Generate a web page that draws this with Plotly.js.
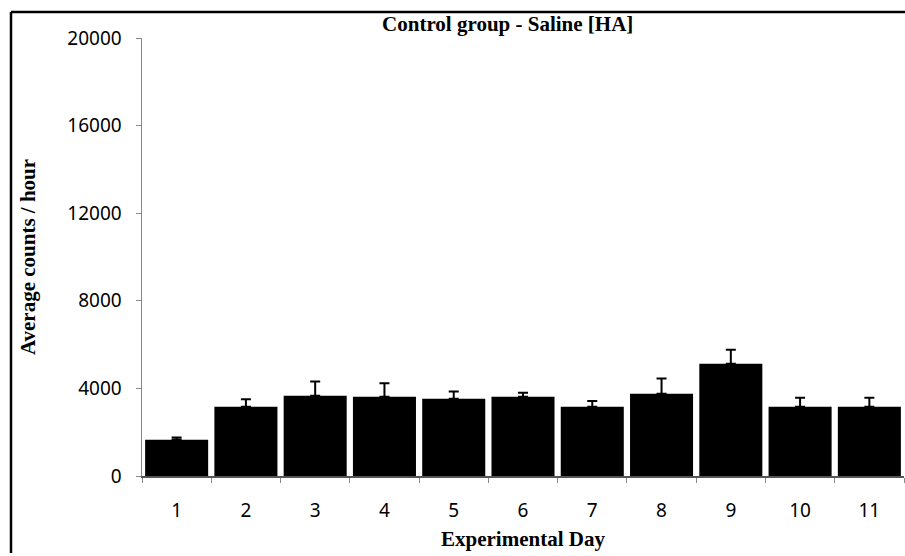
<!DOCTYPE html>
<html>
<head>
<meta charset="utf-8">
<script src="https://cdn.plot.ly/plotly-3.0.1.min.js"></script>
<style>
html,body{margin:0;padding:0;background:#fff;overflow:hidden;}
#chart{width:905px;height:556px;overflow:hidden;}
</style>
</head>
<body>
<div id="chart"></div>
<script>
var days = ['1','2','3','4','5','6','7','8','9','10','11'];
var avgCounts = [1660, 3160, 3670, 3620, 3530, 3620, 3160, 3760, 5130, 3160, 3160];
var sem = [95, 340, 640, 610, 330, 180, 260, 690, 640, 410, 410];
var semMinus = [0, 0, 0, 0, 0, 0, 0, 0, 0, 0, 0];
var yTicks = [0, 4000, 8000, 12000, 16000, 20000];

var trace = {
  type: 'bar',
  x: days,
  y: avgCounts,
  marker: {color: '#000000', line: {width: 0}},
  error_y: {
    type: 'data',
    symmetric: false,
    array: sem,
    arrayminus: semMinus,
    color: '#000000',
    thickness: 2,
    width: 5
  },
  hoverinfo: 'x+y'
};

var frameLeft = (11 - 142) / 762;
var frameTop = (476 - 12) / 438;
var frameRight = (905 - 142) / 762;
var frameBottom = (476 - 553) / 438;

var layout = {
  width: 905,
  height: 556,
  margin: {l: 142, r: 1, t: 38, b: 80},
  paper_bgcolor: '#ffffff',
  plot_bgcolor: '#ffffff',
  bargap: 0.09,
  showlegend: false,
  title: {
    text: 'Control group - Saline [HA]',
    font: {family: 'Liberation Serif', size: 21, color: '#000000', weight: 'bold'},
    x: 0.561, xref: 'container', xanchor: 'center',
    y: 0.957, yref: 'container', yanchor: 'middle'
  },
  xaxis: {
    type: 'category',
    tickson: 'boundaries',
    ticks: 'outside',
    ticklen: 5,
    tickcolor: '#888888',
    showline: true,
    linecolor: '#555555',
    linewidth: 2,
    showgrid: false,
    zeroline: false,
    ticklabelstandoff: 16,
    tickfont: {family: 'Noto Sans', size: 19, color: '#000000'},
    title: {
      text: 'Experimental Day',
      font: {family: 'Liberation Serif', size: 21, color: '#000000', weight: 'bold'},
      standoff: 10
    }
  },
  yaxis: {
    range: [0, 20000],
    tickvals: yTicks,
    ticktext: yTicks.map(String),
    ticks: 'outside',
    ticklen: 5,
    tickcolor: '#888888',
    showline: true,
    linecolor: '#888888',
    linewidth: 1.5,
    showgrid: false,
    zeroline: false,
    ticklabelstandoff: 10,
    tickfont: {family: 'Noto Sans', size: 19, color: '#000000'},
    title: {
      text: 'Average counts / hour',
      font: {family: 'Liberation Serif', size: 21, color: '#000000', weight: 'bold'},
      standoff: 26
    }
  },
  shapes: [
    {type: 'line', xref: 'paper', yref: 'paper',
     x0: frameLeft, x1: frameRight, y0: frameTop, y1: frameTop,
     line: {color: '#000000', width: 2.5}, layer: 'above'},
    {type: 'line', xref: 'paper', yref: 'paper',
     x0: frameLeft, x1: frameLeft, y0: frameBottom, y1: frameTop,
     line: {color: '#000000', width: 2.5}, layer: 'above'}
  ]
};

Plotly.newPlot('chart', [trace], layout, {displayModeBar: false, staticPlot: true});
</script>
</body>
</html>
